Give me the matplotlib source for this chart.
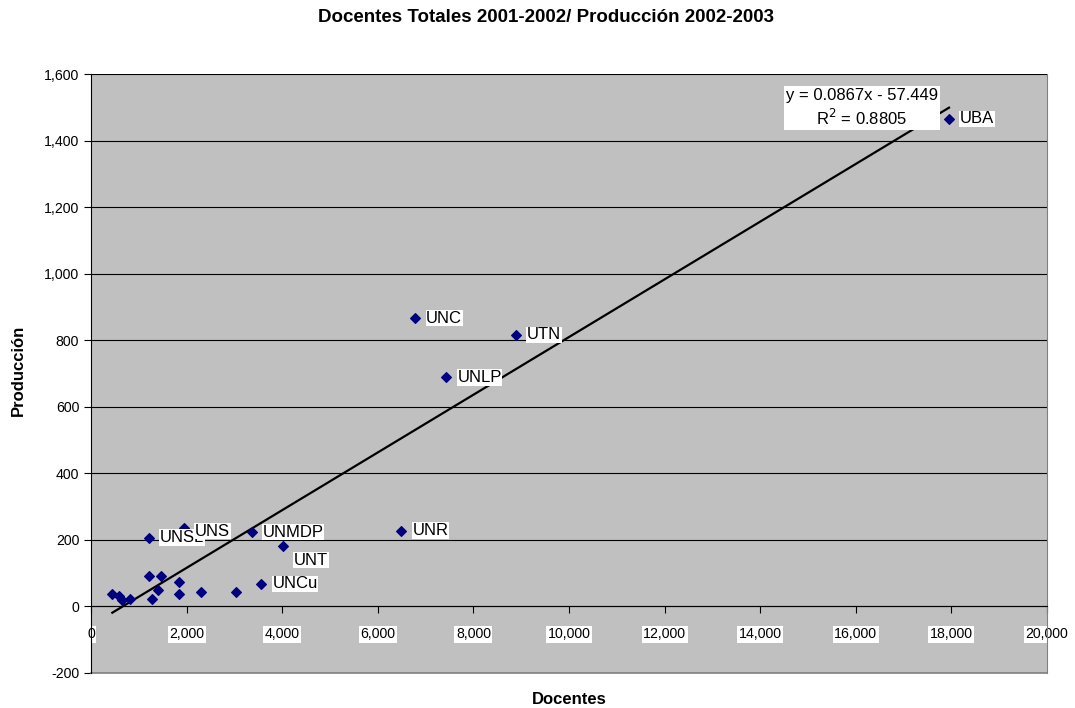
import matplotlib
matplotlib.use("Agg")
import matplotlib.pyplot as plt
import numpy as np

plt.rcParams['font.family'] = ['Liberation Sans', 'DejaVu Sans']

# Data (Docentes, Producción)
names = ["UBA", "UNC", "UTN", "UNLP", "UNR", "UNMDP", "UNT", "UNCu", "UNSL", "UNS",
         "", "", "", "", "", "", "", "", "", "", "", ""]
docentes = [17950, 6780, 8890, 7430, 6490, 3360, 4010, 3560, 1213, 1946,
            446, 592, 641, 823, 1213, 1464, 1283, 1408, 1841, 1841, 2308, 3027]
produccion = [1465, 866, 816, 688, 228, 223, 183, 68, 207, 237,
              36, 31, 18, 23, 91, 91, 23, 49, 73, 36, 44, 44]

slope = 0.0867
intercept = -57.449
r2 = 0.8805

xticks = list(range(0, 20001, 2000))
yticks = list(range(-200, 1601, 200))

fig = plt.figure(figsize=(10.75, 7.08), dpi=100)
ax = fig.add_axes([91/1075, 1-673/708, (1047-91)/1075, (673-74)/708])
ax.set_facecolor('#C0C0C0')

ax.set_xlim(0, 20000)
ax.set_ylim(-200, 1600)
ax.set_xticks(xticks)
ax.set_yticks(yticks)
ax.set_xticklabels([f"{v:,}" for v in xticks])
ax.set_yticklabels([f"{v:,}" for v in yticks])
ax.yaxis.grid(True, color='black', linewidth=0.8)
ax.set_axisbelow(True)

ax.spines['bottom'].set_position(('data', 0))
ax.spines['bottom'].set_color('black')
ax.spines['left'].set_color('black')
ax.spines['top'].set_visible(False)
ax.spines['right'].set_color('#808080')
ax.axhline(-200, color='#808080', linewidth=1.2, zorder=1, clip_on=False)

ax.tick_params(axis='x', direction='out', length=5, labelsize=10.2, pad=10)
ax.tick_params(axis='y', direction='out', length=5, labelsize=10.2)
for lbl in ax.get_xticklabels():
    lbl.set_bbox(dict(facecolor='white', edgecolor='none', pad=1))

# trendline
xs = np.array([min(docentes), max(docentes)])
ax.plot(xs, slope*xs + intercept, color='black', linewidth=1.6, zorder=3)

ax.scatter(docentes, produccion, marker='D', s=24, color='#000080', zorder=4)

offsets = {"UNT": (8, -10.5), "UNS": (8, -2.5)}
for n, x, y in zip(names, docentes, produccion):
    if not n:
        continue
    dx, dy = offsets.get(n, (8, 0))
    ax.annotate(n, (x, y), xytext=(dx, dy), textcoords='offset points',
                fontsize=12, va='center', ha='left',
                bbox=dict(facecolor='white', edgecolor='none', pad=0.5), zorder=5)

ax.text(16130, 1497, f"y = {slope}x - {abs(intercept)}\nR$^2$ = {r2}", fontsize=12,
        ha='center', va='center', multialignment='center', linespacing=1.3,
        bbox=dict(facecolor='white', edgecolor='none', pad=1.5), zorder=5)

fig.text(546/1075, 1-18/708, "Docentes Totales 2001-2002/ Producción 2002-2003",
         ha='center', va='center', fontsize=13.5, fontweight='bold')
fig.text(569/1075, 1-700/708, "Docentes", ha='center', va='center', fontsize=12, fontweight='bold')
fig.text(18/1075, 1-370/708, "Producción", ha='center', va='center', rotation=90,
         fontsize=12, fontweight='bold')

fig.savefig("out.png", dpi=100)
